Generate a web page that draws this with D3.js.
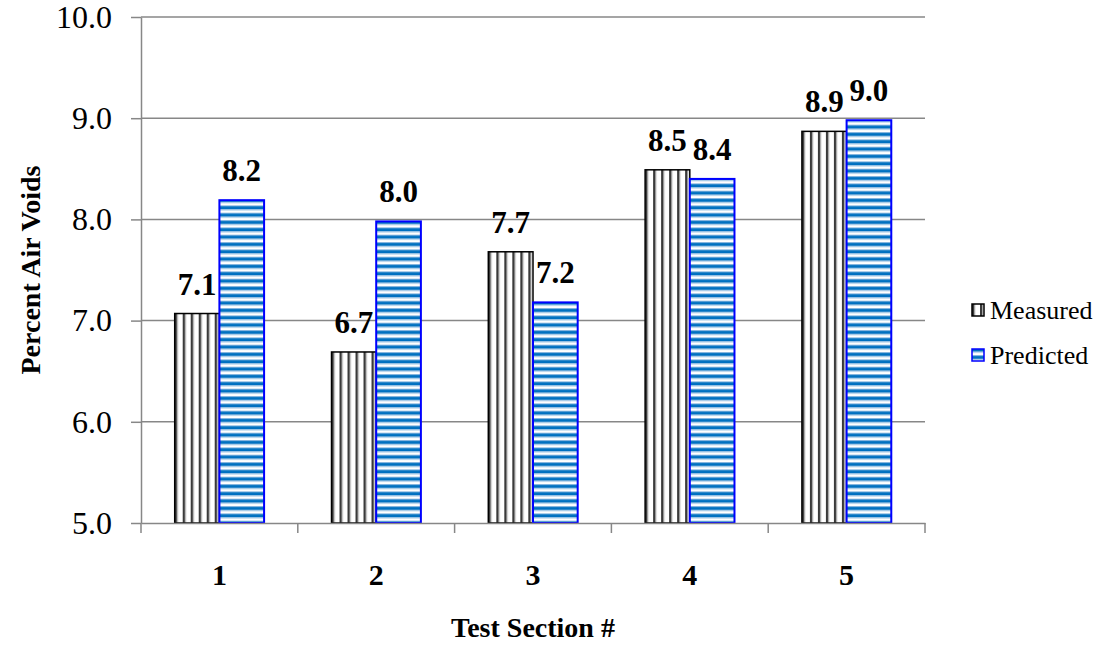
<!DOCTYPE html>
<html>
<head>
<meta charset="utf-8">
<script src="https://cdn.jsdelivr.net/npm/d3@7"></script>
<style>
  html, body { margin: 0; padding: 0; background: #fff; }
  svg { display: block; }
  svg text { font-family: 'Liberation Serif', 'Times New Roman', Times, serif; }
</style>
</head>
<body>
<svg id="chart" width="1102" height="645"></svg>
<script>
const categories = ["1", "2", "3", "4", "5"];
const seriesNames = ["Measured", "Predicted"];
const measured = [7.07, 6.69, 7.68, 8.49, 8.87];
const predicted = [8.19, 7.98, 7.18, 8.40, 8.98];
const yTicks = [5.0, 6.0, 7.0, 8.0, 9.0, 10.0];
const yTitle = "Percent Air Voids";
const xTitle = "Test Section #";

const FONT = "'Liberation Serif', 'Times New Roman', Times, serif";
const svg = d3.select("#chart");
const margin = { left: 141, right: 1102 - 925, top: 17, bottom: 645 - 523 };
const W = 1102, H = 645;

const defs = svg.append("defs");
// vertical stripes for Measured
const pm = defs.append("pattern").attr("id", "pMeasured")
  .attr("patternUnits", "userSpaceOnUse").attr("width", 8).attr("height", 8);
pm.append("rect").attr("width", 8).attr("height", 8).attr("fill", "#ffffff");
pm.append("rect").attr("x", 0).attr("width", 2.5).attr("height", 8).attr("fill", "#3a3a3a");
pm.append("rect").attr("x", 2.5).attr("width", 0.8).attr("height", 8).attr("fill", "#b0b0b0");
// horizontal stripes for Predicted
const ph = 22 / 3;
const pp = defs.append("pattern").attr("id", "pPredicted")
  .attr("patternUnits", "userSpaceOnUse").attr("width", 8).attr("height", ph);
pp.append("rect").attr("width", 8).attr("height", ph).attr("fill", "#ffffff");
pp.append("rect").attr("y", 0).attr("width", 8).attr("height", 1).attr("fill", "#8ab8e0");
pp.append("rect").attr("y", 1).attr("width", 8).attr("height", 3).attr("fill", "#0070c0");
pp.append("rect").attr("y", 4).attr("width", 8).attr("height", 1).attr("fill", "#8ab8e0");

const x0 = d3.scaleBand().domain(categories)
  .range([margin.left, W - margin.right])
  .paddingInner(0.43).paddingOuter(0.215);
const xAxisScale = d3.scaleBand().domain(categories)
  .range([margin.left, W - margin.right]).padding(0);
const x1 = d3.scaleBand().domain(seriesNames).range([0, x0.bandwidth()]).padding(0);
const y = d3.scaleLinear().domain([5, 10]).range([H - margin.bottom, margin.top]);

const gridColor = "#878787";

// gridlines
svg.append("g").selectAll("line").data(yTicks.filter(d => d > 5)).join("line")
  .attr("x1", margin.left).attr("x2", W - margin.right)
  .attr("y1", d => y(d)).attr("y2", d => y(d))
  .attr("stroke", gridColor).attr("stroke-width", 1.5);

// Y axis
const yAxis = svg.append("g").attr("transform", `translate(${margin.left},0)`)
  .call(d3.axisLeft(y).tickValues(yTicks).tickFormat(d3.format(".1f")).tickSize(10).tickSizeOuter(0).tickPadding(19));
yAxis.attr("font-family", FONT);
yAxis.select(".domain").attr("stroke", gridColor).attr("stroke-width", 1.5);
yAxis.selectAll(".tick line").attr("stroke", gridColor).attr("stroke-width", 1.5);
yAxis.selectAll(".tick text").attr("font-size", 32).attr("fill", "#000");

// bars
const data = categories.map((c, i) => ({ cat: c, vals: [
  { s: "Measured", v: measured[i] }, { s: "Predicted", v: predicted[i] }] }));

const groups = svg.append("g").selectAll("g").data(data).join("g")
  .attr("transform", d => `translate(${x0(d.cat)},0)`);

groups.selectAll("rect").data(d => d.vals).join("rect")
  .attr("x", d => x1(d.s))
  .attr("width", x1.bandwidth())
  .attr("y", d => y(d.v))
  .attr("height", d => y(5) - y(d.v))
  .attr("fill", d => d.s === "Measured" ? "url(#pMeasured)" : "url(#pPredicted)")
  .attr("stroke", d => d.s === "Measured" ? "#000" : "#0000ff")
  .attr("stroke-width", d => d.s === "Measured" ? 1.5 : 2);

groups.selectAll("text").data(d => d.vals).join("text")
  .attr("x", d => x1(d.s) + x1.bandwidth() / 2)
  .attr("y", d => y(d.v) - 19)
  .attr("text-anchor", "middle")
  .attr("font-family", FONT)
  .attr("font-size", 31).attr("font-weight", "bold").attr("fill", "#000")
  .text(d => d.v.toFixed(1));

// X axis
const xAxis = svg.append("g").attr("transform", `translate(0,${y(5)})`)
  .call(d3.axisBottom(xAxisScale).tickSize(0).tickSizeOuter(0).tickPadding(41));
xAxis.attr("font-family", FONT);
xAxis.select(".domain").attr("stroke", gridColor).attr("stroke-width", 1.5);
xAxis.selectAll(".tick text").attr("font-size", 30).attr("font-weight", "bold")
  .attr("fill", "#000");
// category boundary ticks
const bounds = categories.map(c => xAxisScale(c)).concat([W - margin.right]);
xAxis.append("g").selectAll("line").data(bounds).join("line")
  .attr("x1", d => d).attr("x2", d => d).attr("y1", 0).attr("y2", 10)
  .attr("stroke", gridColor).attr("stroke-width", 1.5);

// axis titles
svg.append("text")
  .attr("transform", `translate(40,${(y(5) + y(10)) / 2}) rotate(-90)`)
  .attr("text-anchor", "middle").attr("font-family", FONT)
  .attr("font-size", 28).attr("font-weight", "bold")
  .text(yTitle);
svg.append("text")
  .attr("x", (margin.left + W - margin.right) / 2).attr("y", 637)
  .attr("text-anchor", "middle").attr("font-family", FONT)
  .attr("font-size", 28).attr("font-weight", "bold")
  .text(xTitle);

// legend
const legend = svg.append("g").attr("transform", "translate(972,310)");
const li = legend.selectAll("g").data(seriesNames).join("g")
  .attr("transform", (d, i) => `translate(0,${i * 45})`);
li.append("rect").attr("x", 0).attr("y", -6).attr("width", 12).attr("height", 12)
  .attr("fill", d => d === "Measured" ? "url(#pMeasured)" : "url(#pPredicted)")
  .attr("stroke", d => d === "Measured" ? "#000" : "#0000ff").attr("stroke-width", 1.5);
li.append("text").attr("x", 18).attr("y", 9).attr("font-family", FONT)
  .attr("font-size", 26).attr("fill", "#000")
  .text(d => d);
</script>
</body>
</html>
